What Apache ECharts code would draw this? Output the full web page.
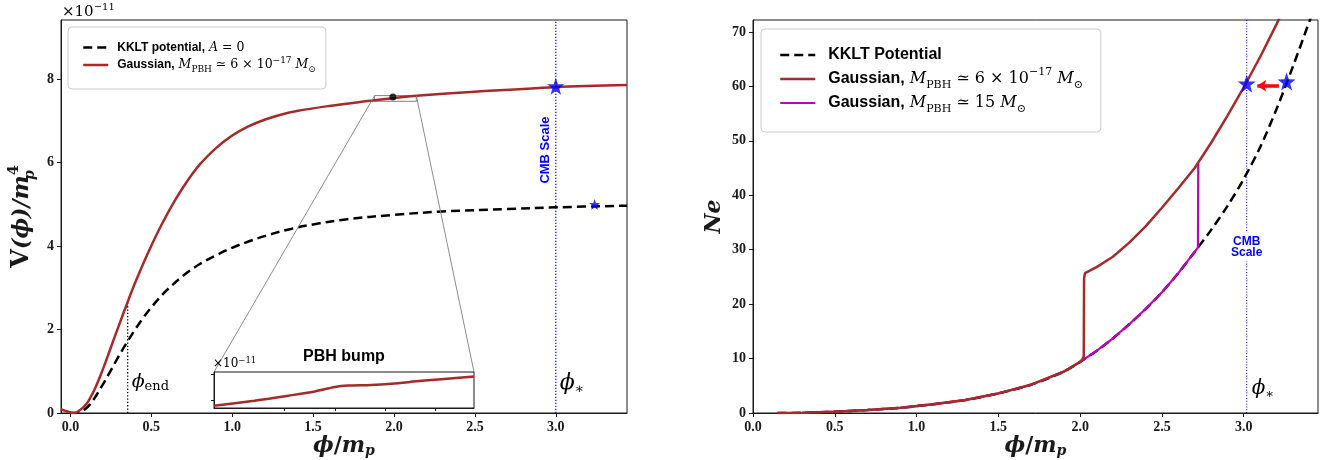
<!DOCTYPE html>
<html><head><meta charset="utf-8">
<script src="https://cdn.jsdelivr.net/npm/echarts@6/dist/echarts.min.js"></script>
<style>html,body{margin:0;padding:0;background:#fff}#c{width:1335px;height:460px}</style>
</head><body><div id="c"></div>
<script>
// ---------------- data ----------------
// Left panel: V(phi)/m_p^4  (units of 1e-11)
const kkltPhiL = [0.0, 0.04, 0.08, 0.12, 0.16, 0.2, 0.25, 0.3, 0.354, 0.4, 0.45, 0.5, 0.55, 0.6, 0.7, 0.8, 0.9, 1.0, 1.1, 1.2, 1.35, 1.5, 1.7, 2.0, 2.3, 2.7, 3.0, 3.44];
const kkltVL   = [0.0, 0.0, 0.06, 0.2, 0.42, 0.68, 1.02, 1.37, 1.72, 2.0, 2.28, 2.53, 2.76, 2.96, 3.3, 3.57, 3.78, 3.96, 4.11, 4.24, 4.40, 4.52, 4.64, 4.75, 4.83, 4.89, 4.93, 4.97];
const gaussPhiL = [-0.06, -0.03, 0.0, 0.02, 0.05, 0.1, 0.15, 0.2, 0.25, 0.3, 0.35, 0.4, 0.45, 0.5, 0.55, 0.6, 0.65, 0.7, 0.75, 0.8, 0.9, 1.0, 1.1, 1.2, 1.3, 1.4, 1.6, 1.8, 2.0, 2.2, 2.5, 3.0, 3.44];
const gaussVL   = [0.09, 0.05, 0.015, 0.0, 0.04, 0.22, 0.57, 1.04, 1.57, 2.10, 2.62, 3.12, 3.58, 4.01, 4.41, 4.78, 5.12, 5.43, 5.71, 5.96, 6.35, 6.65, 6.87, 7.03, 7.15, 7.24, 7.36, 7.46, 7.55, 7.62, 7.70, 7.81, 7.86];
// Inset ("PBH bump")
const insetPhi = [1.88, 1.92, 1.954, 1.98, 2.0, 2.013, 2.036, 2.056, 2.086, 2.138];
const insetV   = [7.480, 7.499, 7.518, 7.534, 7.551, 7.556, 7.558, 7.563, 7.574, 7.591];
const insetXRange = [1.88, 2.138];
const insetYRange = [7.4712, 7.6076];
const insetXTicks = [1.95, 2.0, 2.05, 2.10];
const insetYTicks = [7.5, 7.6];
// markers / lines (left)
const phiEndLine = [[0.354, 0], [0.354, 2.66]];
const cmbLineL = [[3.0, 0], [3.0, 9.42]];
const starBigL = [[3.0, 7.83]];
const starSmallL = [[3.24, 5.0]];
const bumpDot = [[1.993, 7.576]];

// Right panel: Ne(phi)
const kkltPhiR = [0.15, 0.3, 0.5, 0.7, 0.9, 1.1, 1.3, 1.5, 1.7, 1.9, 2.0, 2.1, 2.2, 2.3, 2.4, 2.5, 2.6, 2.7, 2.8, 2.9, 3.0, 3.1, 3.2, 3.3, 3.42];
const kkltNeR  = [0.0, 0.05, 0.25, 0.55, 0.95, 1.6, 2.4, 3.6, 5.2, 7.6, 9.4, 11.4, 13.7, 16.3, 19.1, 22.2, 25.7, 29.6, 33.6, 38.0, 43.0, 48.8, 55.8, 63.6, 73.5];
const gaussPhiR = [0.15, 0.3, 0.5, 0.7, 0.9, 1.1, 1.3, 1.5, 1.7, 1.9, 2.0, 2.012, 2.022, 2.024, 2.03, 2.1, 2.2, 2.3, 2.4, 2.5, 2.6, 2.7, 2.8, 2.9, 3.0, 3.1, 3.2, 3.25];
const gaussNeR  = [0.0, 0.05, 0.25, 0.55, 0.95, 1.6, 2.4, 3.6, 5.2, 7.6, 9.4, 9.8, 10.4, 24.8, 25.7, 26.8, 28.7, 31.3, 34.3, 37.7, 41.3, 45.0, 49.6, 54.6, 59.8, 65.4, 71.4, 74.6];
const g15PhiR = [0.15, 0.3, 0.5, 0.7, 0.9, 1.1, 1.3, 1.5, 1.7, 1.9, 2.0, 2.1, 2.2, 2.3, 2.4, 2.5, 2.6, 2.7, 2.72, 2.722];
const g15NeR  = [0.0, 0.05, 0.25, 0.55, 0.95, 1.6, 2.4, 3.6, 5.2, 7.6, 9.4, 11.4, 13.7, 16.3, 19.1, 22.2, 25.7, 29.6, 30.4, 45.8];
const cmbLineR = [[3.018, 0], [3.018, 72.2]];
const starsR = [[3.018, 60.5], [3.262, 60.9]];
const arrowR = [[3.215, 60.1], [3.083, 60.1]];

// ticks
const xTicksL = [0, 0.5, 1.0, 1.5, 2.0, 2.5, 3.0];
const yTicksL = [0, 2, 4, 6, 8];
const xTicksR = [0, 0.5, 1.0, 1.5, 2.0, 2.5, 3.0];
const yTicksR = [0, 10, 20, 30, 40, 50, 60, 70];

// ---------------- helpers ----------------
const zip = (a, b) => a.map((v, i) => [v, b[i]]);
const STAR = 'path://M0,-10 L2.35,-3.24 L9.51,-3.09 L3.8,1.24 L5.88,8.09 L0,4 L-5.88,8.09 L-3.8,1.24 L-9.51,-3.09 L-2.35,-3.24 Z';
const BROWN = '#a52a2a', MAG = '#bf00bf', BLUE = '#0000ff';
const TICKFONT = {fontFamily: 'Liberation Serif', fontWeight: 'bold', fontSize: 14, color: '#1a1a1a'};
const SERIF = 'DejaVu Serif';

function axisCommon(gi, min, max, ticks, fmt) {
  return {
    type: 'value', gridIndex: gi, min: min, max: max,
    axisLine: {show: true, onZero: false, lineStyle: {color: '#1a1a1a', width: 1}},
    axisTick: {show: true, inside: false, length: 4, customValues: ticks, lineStyle: {color: '#1a1a1a', width: 1}},
    axisLabel: {show: true, customValues: ticks, formatter: fmt, margin: 7, ...TICKFONT},
    splitLine: {show: false}
  };
}

const xNameRich = {
  f: {fontFamily: SERIF, fontStyle: 'italic', fontWeight: 'bold', fontSize: 22, lineHeight: 24},
  s: {fontFamily: SERIF, fontWeight: 'bold', fontSize: 22, lineHeight: 24},
  m: {fontFamily: SERIF, fontStyle: 'italic', fontWeight: 'bold', fontSize: 22, lineHeight: 24},
  p: {fontFamily: SERIF, fontStyle: 'italic', fontWeight: 'bold', fontSize: 14, lineHeight: 12, verticalAlign: 'bottom'}
};

function legendRich(fs, ms, lh, lead) {
  return {
    t: {fontFamily: 'Liberation Sans', fontWeight: 'bold', fontSize: fs, lineHeight: lh, color: '#000'},
    t0: {fontFamily: 'Liberation Sans', fontWeight: 'bold', fontSize: fs, lineHeight: lh, color: '#000', padding: [0, 0, 0, lead]},
    mi: {fontFamily: SERIF, fontStyle: 'italic', fontSize: ms, lineHeight: lh, color: '#000'},
    mr: {fontFamily: SERIF, fontSize: ms, lineHeight: lh, color: '#000'},
    sub: {fontFamily: SERIF, fontSize: Math.round(ms * 0.68), lineHeight: Math.round(lh * 0.55), verticalAlign: 'bottom', color: '#000'},
    sup: {fontFamily: SERIF, fontSize: Math.round(ms * 0.68), lineHeight: Math.round(lh * 0.55), verticalAlign: 'top', color: '#000'}
  };
}
const gaussTxt = '{t0|Gaussian,}{mi| M}{sub|PBH}{mr| ≃ 6 × 10}{sup|−17}{mi| M}{sub|⊙}';
const legendNames = {
  kL: '{t0|KKLT potential,}{mi| A}{mr| = 0}',
  gL: gaussTxt,
  kR: '{t0|KKLT Potential}',
  gR: gaussTxt,
  mR: '{t0|Gaussian,}{mi| M}{sub|PBH}{mr| ≃ 15 }{mi|M}{sub|⊙}'
};

const chart = echarts.init(document.getElementById('c'), null, {renderer: 'canvas'});

const option = {
  animation: false,
  backgroundColor: '#fff',
  grid: [
    {left: 61, top: 20, width: 566, height: 393, show: true, borderColor: '#1a1a1a', borderWidth: 1, backgroundColor: 'transparent', outerBoundsMode: 'none'},
    {left: 753, top: 20, width: 565, height: 393, show: true, borderColor: '#1a1a1a', borderWidth: 1, backgroundColor: 'transparent', outerBoundsMode: 'none'},
    {left: 214, top: 372, width: 260, height: 36, show: true, borderColor: '#1a1a1a', borderWidth: 1, backgroundColor: '#fff', z: 10, outerBoundsMode: 'none'}
  ],
  xAxis: [
    Object.assign(axisCommon(0, -0.058, 3.44, xTicksL, v => v.toFixed(1)), {
      name: '{f|ϕ}{s|/}{m|m}{p|p}', nameLocation: 'middle', nameGap: 21, nameMoveOverlap: false, nameTextStyle: {rich: xNameRich}
    }),
    Object.assign(axisCommon(1, 0, 3.454, xTicksR, v => v.toFixed(1)), {
      name: '{f|ϕ}{s|/}{m|m}{p|p}', nameLocation: 'middle', nameGap: 21, nameMoveOverlap: false, nameTextStyle: {rich: xNameRich}
    }),
    {
      type: 'value', gridIndex: 2, min: insetXRange[0], max: insetXRange[1], z: 11,
      axisLine: {show: true, onZero: false, lineStyle: {color: '#1a1a1a'}},
      axisTick: {show: true, inside: false, length: 3, customValues: insetXTicks, lineStyle: {color: '#1a1a1a'}},
      axisLabel: {show: false}, splitLine: {show: false}
    }
  ],
  yAxis: [
    Object.assign(axisCommon(0, 0, 9.42, yTicksL, v => String(v)), {
      name: '{v|V}{b|(ϕ)/}{m|m}{p|p}{u|4}', nameLocation: 'middle', nameGap: 24, nameMoveOverlap: false,
      nameTextStyle: {rich: {
        v: {fontFamily: SERIF, fontWeight: 'bold', fontSize: 24, lineHeight: 30},
        b: {fontFamily: SERIF, fontWeight: 'bold', fontStyle: 'italic', fontSize: 22, lineHeight: 30},
        m: {fontFamily: SERIF, fontWeight: 'bold', fontStyle: 'italic', fontSize: 23, lineHeight: 30},
        p: {fontFamily: SERIF, fontWeight: 'bold', fontStyle: 'italic', fontSize: 14, lineHeight: 14, verticalAlign: 'bottom', width: 0},
        u: {fontFamily: SERIF, fontWeight: 'bold', fontSize: 14, lineHeight: 14, verticalAlign: 'top'}
      }}
    }),
    Object.assign(axisCommon(1, 0, 72.2, yTicksR, v => String(v)), {
      name: '{n|Ne}', nameLocation: 'middle', nameGap: 28, nameMoveOverlap: false,
      nameTextStyle: {rich: {n: {fontFamily: SERIF, fontWeight: 'bold', fontStyle: 'italic', fontSize: 22}}}
    }),
    {
      type: 'value', gridIndex: 2, min: insetYRange[0], max: insetYRange[1], z: 11,
      axisLine: {show: true, onZero: false, lineStyle: {color: '#1a1a1a'}},
      axisTick: {show: true, inside: false, length: 3, customValues: insetYTicks, lineStyle: {color: '#1a1a1a'}},
      axisLabel: {show: false}, splitLine: {show: false}
    }
  ],
  legend: [
    {
      data: ['kL', 'gL'], left: 68, top: 27, orient: 'vertical',
      padding: [14, 10, 15, 14], itemGap: 2, itemWidth: 25, itemHeight: 12,
      backgroundColor: '#fff', borderColor: '#cccccc', borderWidth: 1, borderRadius: 4,
      selectedMode: false, itemStyle: {opacity: 0}, lineStyle: {width: 'inherit'},
      formatter: n => legendNames[n], textStyle: {rich: legendRich(12, 12.5, 18, 4)}
    },
    {
      data: ['kR', 'gR', 'mR'], left: 761, top: 29, orient: 'vertical',
      padding: [18, 18, 17, 18], itemGap: 4, itemWidth: 35, itemHeight: 14,
      backgroundColor: '#fff', borderColor: '#cccccc', borderWidth: 1, borderRadius: 4,
      selectedMode: false, itemStyle: {opacity: 0}, lineStyle: {width: 'inherit'},
      formatter: n => legendNames[n], textStyle: {rich: legendRich(16, 16, 24, 8)}
    }
  ],
  series: [
    // ---- left panel ----
    {name: 'kL', type: 'line', xAxisIndex: 0, yAxisIndex: 0, data: zip(kkltPhiL, kkltVL), symbol: 'none', smooth: 0.35,
      lineStyle: {color: '#000', width: 2.5, type: [9, 5]}, itemStyle: {color: '#000'}, z: 3},
    {name: 'gL', type: 'line', xAxisIndex: 0, yAxisIndex: 0, data: zip(gaussPhiL, gaussVL), symbol: 'none', smooth: 0.35,
      lineStyle: {color: BROWN, width: 2.5}, itemStyle: {color: BROWN}, z: 4},
    {name: 'phiEnd', type: 'line', xAxisIndex: 0, yAxisIndex: 0, data: phiEndLine, symbol: 'none',
      lineStyle: {color: '#000', width: 1.3, type: [1.3, 2]}, z: 2},
    {name: 'cmbL', type: 'line', xAxisIndex: 0, yAxisIndex: 0, data: cmbLineL, symbol: 'none',
      lineStyle: {color: BLUE, width: 1.2, type: [1.2, 1.8]}, z: 2},
    {name: 'bump', type: 'scatter', xAxisIndex: 0, yAxisIndex: 0, data: bumpDot, symbol: 'circle', symbolSize: 7,
      itemStyle: {color: '#000'}, z: 6,
      markArea: {silent: true, itemStyle: {color: 'rgba(0,0,0,0)', borderColor: '#808080', borderWidth: 1},
        data: [[{coord: [insetXRange[0], insetYRange[1]]}, {coord: [insetXRange[1], insetYRange[0]]}]]}},
    {name: 'starBigL', type: 'scatter', xAxisIndex: 0, yAxisIndex: 0, data: starBigL, symbol: STAR, symbolSize: 17,
      itemStyle: {color: BLUE}, z: 7},
    {name: 'starSmallL', type: 'scatter', xAxisIndex: 0, yAxisIndex: 0, data: starSmallL, symbol: STAR, symbolSize: 11,
      itemStyle: {color: BLUE}, z: 7},
    // ---- inset ----
    {name: 'inset', type: 'line', xAxisIndex: 2, yAxisIndex: 2, data: zip(insetPhi, insetV), symbol: 'none', smooth: 0.3,
      lineStyle: {color: BROWN, width: 2.5}, z: 12},
    // ---- right panel ----
    {name: 'kR', type: 'line', xAxisIndex: 1, yAxisIndex: 1, data: zip(kkltPhiR, kkltNeR), symbol: 'none', smooth: 0.3,
      lineStyle: {color: '#000', width: 2.5, type: [9, 5]}, itemStyle: {color: '#000'}, z: 3},
    {name: 'mR', type: 'line', xAxisIndex: 1, yAxisIndex: 1, data: zip(g15PhiR, g15NeR), symbol: 'none',
      lineStyle: {color: MAG, width: 2.2}, itemStyle: {color: MAG}, z: 4},
    {name: 'gR', type: 'line', xAxisIndex: 1, yAxisIndex: 1, data: zip(gaussPhiR, gaussNeR), symbol: 'none',
      lineStyle: {color: BROWN, width: 2.5}, itemStyle: {color: BROWN}, z: 5},
    {name: 'cmbR', type: 'line', xAxisIndex: 1, yAxisIndex: 1, data: cmbLineR, symbol: 'none',
      lineStyle: {color: BLUE, width: 1, type: [1, 1.8]}, z: 2},
    {name: 'starsR', type: 'scatter', xAxisIndex: 1, yAxisIndex: 1, data: starsR, symbol: STAR, symbolSize: 18,
      itemStyle: {color: BLUE}, z: 7,
      markLine: {silent: true, symbol: ['none', 'arrow'], symbolSize: 9, label: {show: false},
        lineStyle: {color: '#ff0000', width: 3.5, type: 'solid'},
        data: [[{coord: arrowR[0]}, {coord: arrowR[1]}]]}}
  ]
};
chart.setOption(option);

// annotations and inset connectors (positions derived from the axes)
const c0 = chart.convertToPixel({gridIndex: 0}, [insetXRange[0], insetYRange[1]]);
const c1 = chart.convertToPixel({gridIndex: 0}, [insetXRange[1], insetYRange[1]]);
const i0 = chart.convertToPixel({gridIndex: 2}, [insetXRange[0], insetYRange[1]]);
const i1 = chart.convertToPixel({gridIndex: 2}, [insetXRange[1], insetYRange[1]]);
const pe = chart.convertToPixel({gridIndex: 0}, [phiEndLine[0][0], 0]);
const psL = chart.convertToPixel({gridIndex: 0}, [cmbLineL[0][0], 0]);
const psR = chart.convertToPixel({gridIndex: 1}, [cmbLineR[0][0], 0]);
const cmbTxtR = chart.convertToPixel({gridIndex: 1}, [cmbLineR[0][0], 30.5]);

const phiRich = (big, small) => ({
  f: {fontFamily: SERIF, fontStyle: 'italic', fontSize: big, lineHeight: big + 4, fill: '#000'},
  s: {fontFamily: SERIF, fontSize: small, lineHeight: small, verticalAlign: 'bottom', fill: '#000'}
});
const expRich = (big, small) => ({
  a: {fontFamily: SERIF, fontSize: big, lineHeight: big + 4, fill: '#000'},
  e: {fontFamily: SERIF, fontSize: small, lineHeight: small, verticalAlign: 'top', fill: '#000'}
});

chart.setOption({
  graphic: [
    {type: 'line', z: 5, shape: {x1: c0[0], y1: c0[1], x2: i0[0], y2: i0[1]}, style: {stroke: '#808080', lineWidth: 0.9}, silent: true},
    {type: 'line', z: 5, shape: {x1: c1[0], y1: c1[1], x2: i1[0], y2: i1[1]}, style: {stroke: '#808080', lineWidth: 0.9}, silent: true},
    {type: 'text', z: 20, x: 62, y: 12, style: {text: '{a|×10}{e|−11}', rich: expRich(15, 10), align: 'left', verticalAlign: 'middle'}},
    {type: 'text', z: 20, x: 213, y: 364, style: {text: '{a|×10}{e|−11}', rich: expRich(12, 8.5), align: 'left', verticalAlign: 'middle'}},
    {type: 'text', z: 20, x: (i0[0] + i1[0]) / 2, y: 357, style: {text: 'PBH bump', fontFamily: 'Liberation Sans', fontWeight: 'bold', fontSize: 16, fill: '#000', align: 'center', verticalAlign: 'middle'}},
    {type: 'text', z: 20, x: pe[0] + 4, y: 382, style: {text: '{f|ϕ}{s|end}', rich: phiRich(19, 13), align: 'left', verticalAlign: 'middle'}},
    {type: 'text', z: 20, x: psL[0] + 4, y: 383, style: {text: '{f|ϕ}{s|∗}', rich: phiRich(22, 14), align: 'left', verticalAlign: 'middle'}},
    {type: 'text', z: 20, x: psR[0] + 5, y: 389, style: {text: '{f|ϕ}{s|∗}', rich: phiRich(20, 13), align: 'left', verticalAlign: 'middle'}},
    {type: 'text', z: 20, x: psL[0] - 10, y: 150, rotation: Math.PI / 2, style: {text: 'CMB Scale', fontFamily: 'Liberation Sans', fontWeight: 'bold', fontSize: 13, fill: BLUE, align: 'center', verticalAlign: 'middle'}},
    {type: 'text', z: 20, x: cmbTxtR[0], y: cmbTxtR[1], style: {text: 'CMB\nScale', fontFamily: 'Liberation Sans', fontWeight: 'bold', fontSize: 12, lineHeight: 11.5, fill: BLUE, align: 'center', verticalAlign: 'middle', backgroundColor: '#fff', padding: [3, 1, 3, 1]}}
  ]
});
</script>
</body></html>
